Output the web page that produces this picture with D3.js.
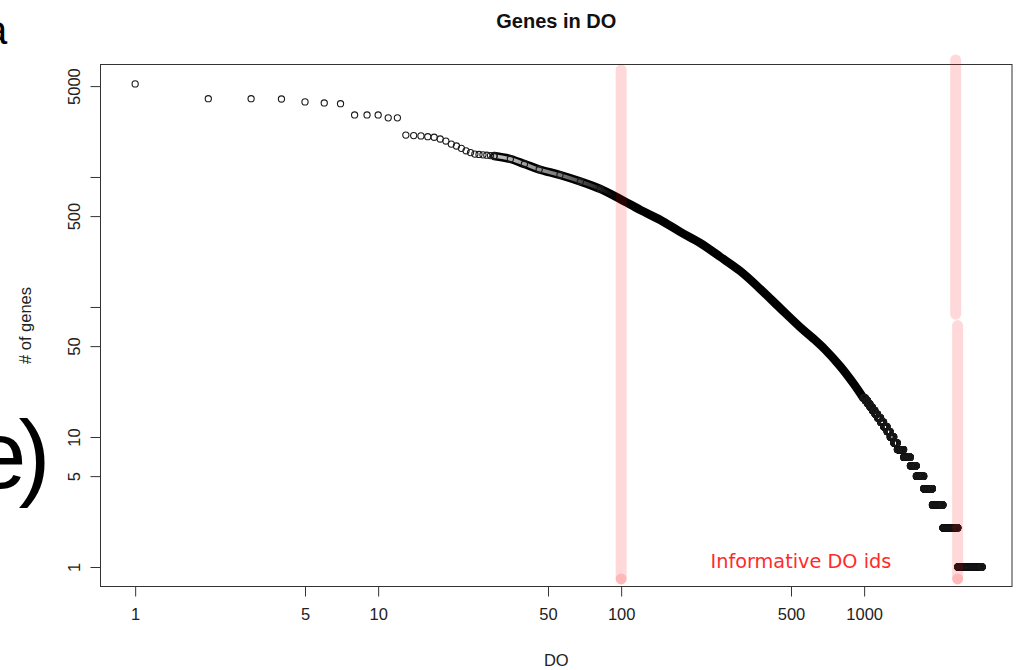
<!DOCTYPE html>
<html>
<head>
<meta charset="utf-8">
<script src="https://cdn.jsdelivr.net/npm/d3@7"></script>
<style>
  html, body { margin: 0; padding: 0; background: #fff; }
  svg { display: block; font-family: 'Liberation Sans', Arial, Helvetica, sans-serif; }
</style>
</head>
<body>
<svg id="chart" width="1020" height="670"></svg>
<script>
// ============================================================
// DATA - genes per DO id, DO ids sorted by gene count
// ============================================================

// first DO ids, read one by one (rank 1..30)
const headGenes = [5200, 4000, 4000, 3980, 3780, 3710, 3660, 3000, 3000, 3000, 2850, 2850,
  2100, 2080, 2070, 2040, 2020, 1960, 1890, 1790, 1730, 1660, 1590, 1540, 1500, 1490,
  1480, 1470, 1460, 1450];

// dense part of the curve, read along the middle of the band
const curveRank = [30, 35, 40, 46, 56, 68, 82, 99, 120, 145, 175, 211, 255, 309, 373, 451, 545, 619, 691, 797, 901, 992];
const curveGenes = [1450, 1375, 1259, 1142, 1036, 923, 809, 677, 557, 467, 378, 311, 244, 189, 138, 98, 70, 57, 47, 35, 26, 20];

// tail: how many DO ids carry exactly this many genes
const tailGenes = [20, 19, 18, 17, 16, 15, 14, 13, 12, 11, 10, 9, 8, 7, 6, 5, 4, 3, 2, 1];
const tailIds = [20, 22, 23, 25, 26, 29, 33, 34, 39, 37, 45, 45, 85, 95, 90, 120, 150, 200, 320, 630];

// pink cut-off marks (DO rank, gene range they cover)
const markRank = [100, 2380, 2425];
const markTop = [6650, 7940, 72];
const markBottom = [0.81, 88, 0.81];
const markDot = [true, false, true];

// axes
const xTicks = [1, 5, 10, 50, 100, 500, 1000];
const yTicks = [1, 5, 10, 50, 100, 500, 1000, 5000];
const yTickLabels = ['1', '5', '10', '50', '', '500', '', '5000'];

// ============================================================
// PLOT
// ============================================================

class GenesInDoPlot {
  constructor(svgSelector) {
    this.svg = d3.select(svgSelector);
    this.frame = { left: 100.5, right: 1012, top: 64.5, bottom: 586.5 };
    this.init();
  }

  init() {
    this.setupScales();
    this.prepareData();
    this.drawBackdrop();
    this.drawFrame();
    this.drawAxes();
    this.drawPoints();
    this.drawMarks();
    this.drawLabels();
  }

  setupScales() {
    const f = this.frame;
    this.x = d3.scaleLog().domain([0.72, 4060]).range([f.left, f.right]);
    this.y = d3.scaleLog().domain([0.708, 7330]).range([f.bottom, f.top]);
  }

  prepareData() {
    this.head = headGenes.map((g, i) => ({ rank: i + 1, genes: g }));
    this.curve = curveRank.map((r, i) => ({ rank: r, genes: curveGenes[i] }));

    // every DO id in the tail, one per rank
    this.tail = [];
    let rank = curveRank[curveRank.length - 1];
    tailGenes.forEach((g, i) => {
      for (let k = 0; k < tailIds[i]; k++) {
        this.tail.push({ rank: rank, genes: g });
        rank += 1;
      }
    });
  }

  drawBackdrop() {
    // leftovers of the slide behind the figure
    this.svg.append('text')
      .attr('x', -27).attr('y', 488)
      .attr('font-size', 96)
      .attr('letter-spacing', -8)
      .attr('fill', '#000')
      .text('e)');

    this.svg.append('text')
      .attr('x', -15).attr('y', 44)
      .attr('font-size', 40)
      .attr('fill', '#000')
      .text('a');
  }

  drawFrame() {
    const f = this.frame;
    this.svg.append('rect')
      .attr('x', f.left).attr('y', f.top)
      .attr('width', f.right - f.left)
      .attr('height', f.bottom - f.top)
      .attr('fill', 'none')
      .attr('stroke', '#333')
      .attr('stroke-width', 1);
  }

  drawAxes() {
    const f = this.frame;

    const xAxis = this.svg.append('g')
      .attr('transform', `translate(0,${f.bottom})`)
      .call(d3.axisBottom(this.x).tickValues(xTicks).tickFormat(d3.format('d')).tickSize(10).tickPadding(12));

    const yAxis = this.svg.append('g')
      .attr('transform', `translate(${f.left},0)`)
      .call(d3.axisLeft(this.y).tickValues(yTicks).tickFormat((d, i) => yTickLabels[i]).tickSize(10));

    [xAxis, yAxis].forEach((ax) => {
      ax.select('.domain').remove();
      ax.attr('font-family', null).attr('font-size', 16.5);
      ax.selectAll('line').attr('stroke', '#333');
      ax.selectAll('text').attr('fill', '#222');
    });

    // labels parallel to the y axis
    yAxis.selectAll('text')
      .attr('transform', 'rotate(-90)')
      .attr('x', 0)
      .attr('y', -21)
      .attr('dy', 0)
      .attr('text-anchor', 'middle');
  }

  drawPoints() {
    const x = this.x;
    const y = this.y;
    const g = this.svg.append('g');

    const defs = this.svg.append('defs');
    const grad = defs.append('linearGradient')
      .attr('id', 'fade')
      .attr('gradientUnits', 'userSpaceOnUse')
      .attr('x1', x(30)).attr('x2', x(95))
      .attr('y1', 0).attr('y2', 0);
    grad.append('stop').attr('offset', 0).attr('stop-color', '#c4c4c4');
    grad.append('stop').attr('offset', 0.55).attr('stop-color', '#7a7a7a');
    grad.append('stop').attr('offset', 1).attr('stop-color', '#000');

    const line = d3.line()
      .x((d) => x(d.rank))
      .y((d) => y(d.genes))
      .curve(d3.curveCatmullRom.alpha(0.5));

    // band of overlapping circles
    g.append('path')
      .datum(this.curve)
      .attr('d', line)
      .attr('fill', 'none')
      .attr('stroke', '#000')
      .attr('stroke-width', 8.5)
      .attr('stroke-linecap', 'round')
      .attr('stroke-linejoin', 'round');

    g.append('path')
      .datum(this.curve.filter((d) => d.rank <= 99))
      .attr('d', line)
      .attr('fill', 'none')
      .attr('stroke', 'url(#fade)')
      .attr('stroke-width', 3.5)
      .attr('stroke-linecap', 'round');

    const allPoints = this.head.concat(this.curve.filter((d) => d.rank < 90), this.tail);

    g.selectAll('circle')
      .data(allPoints)
      .enter()
      .append('circle')
      .attr('cx', (d) => x(d.rank))
      .attr('cy', (d) => y(d.genes))
      .attr('r', 3.1)
      .attr('fill', 'none')
      .attr('stroke', '#1a1a1a')
      .attr('stroke-width', 1.1);
  }

  drawMarks() {
    const x = this.x;
    const y = this.y;
    const pink = 'rgba(255, 0, 0, 0.15)';
    const g = this.svg.append('g');

    g.selectAll('line')
      .data(markRank)
      .enter()
      .append('line')
      .attr('x1', (d) => x(d))
      .attr('x2', (d) => x(d))
      .attr('y1', (d, i) => y(markTop[i]))
      .attr('y2', (d, i) => y(markBottom[i]))
      .attr('stroke', pink)
      .attr('stroke-width', 11)
      .attr('stroke-linecap', 'round');

    g.selectAll('circle')
      .data(markRank.filter((d, i) => markDot[i]))
      .enter()
      .append('circle')
      .attr('cx', (d) => x(d))
      .attr('cy', y(markBottom[0]))
      .attr('r', 5.5)
      .attr('fill', pink);

    this.svg.append('text')
      .attr('x', 710.5)
      .attr('y', 568)
      .attr('font-family', "'DejaVu Sans', sans-serif")
      .attr('font-size', 19.3)
      .attr('fill', '#ff2b2b')
      .text('Informative DO ids');
  }

  drawLabels() {
    const f = this.frame;
    const cx = (f.left + f.right) / 2;

    this.svg.append('text')
      .attr('x', cx).attr('y', 28)
      .attr('text-anchor', 'middle')
      .attr('font-size', 20)
      .attr('font-weight', 'bold')
      .attr('fill', '#111')
      .text('Genes in DO');

    this.svg.append('text')
      .attr('x', cx).attr('y', 666)
      .attr('text-anchor', 'middle')
      .attr('font-size', 16.5)
      .attr('fill', '#222')
      .text('DO');

    this.svg.append('text')
      .attr('transform', `translate(31,${(f.top + f.bottom) / 2}) rotate(-90)`)
      .attr('text-anchor', 'middle')
      .attr('font-size', 16.5)
      .attr('fill', '#222')
      .text('# of genes');
  }
}

// ============================================================
// INITIALIZATION
// ============================================================

const plot = new GenesInDoPlot('#chart');
</script>
</body>
</html>
